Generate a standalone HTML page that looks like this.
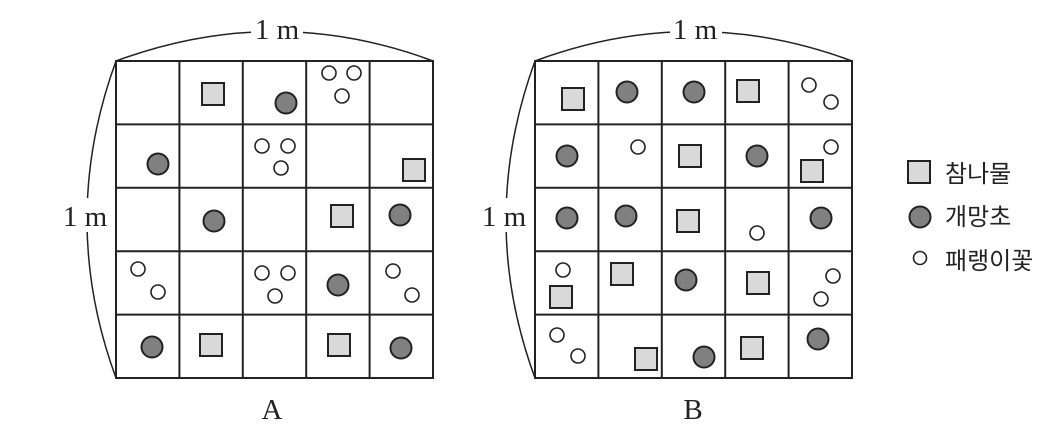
<!DOCTYPE html>
<html><head><meta charset="utf-8"><style>
html,body{margin:0;padding:0;background:#fff;width:1060px;height:436px;overflow:hidden}
</style></head><body>
<svg width="1060" height="436" viewBox="0 0 1060 436" xmlns="http://www.w3.org/2000/svg">
<defs>
<g id="grid" fill="none" stroke="#222" stroke-width="2">
<rect x="0" y="0" width="317" height="317"/>
<line x1="63.4" y1="0" x2="63.4" y2="317"/><line x1="126.8" y1="0" x2="126.8" y2="317"/>
<line x1="190.2" y1="0" x2="190.2" y2="317"/><line x1="253.6" y1="0" x2="253.6" y2="317"/>
<line y1="63.4" x1="0" y2="63.4" x2="317"/><line y1="126.8" x1="0" y2="126.8" x2="317"/>
<line y1="190.2" x1="0" y2="190.2" x2="317"/><line y1="253.6" x1="0" y2="253.6" x2="317"/>
</g>
</defs>
<g fill="none" stroke="#222" stroke-width="1.5">
<path d="M116 61 Q275 2 433 61"/>
<path d="M116 378 Q58 220 116 61"/>
<path d="M535 61 Q694 2 852 61"/>
<path d="M535 378 Q477 220 535 61"/>
</g>
<g fill="#fff">
<rect x="251" y="14" width="52" height="28"/>
<rect x="670" y="14" width="52" height="28"/>
<rect x="55" y="198" width="60" height="34"/>
<rect x="474" y="198" width="60" height="34"/>
</g>
<g font-family="'Liberation Serif',serif" font-size="29" fill="#222" text-anchor="middle">
<text x="277" y="39">1 m</text>
<text x="695" y="39">1 m</text>
<text x="85" y="226">1 m</text>
<text x="504" y="226">1 m</text>
<text x="272" y="419">A</text>
<text x="693" y="419">B</text>
</g>
<use href="#grid" x="116" y="61"/>
<use href="#grid" x="535" y="61"/>
<g stroke="#222" stroke-width="2">
<g fill="#d9d9d9">
<rect x="202" y="83" width="22" height="22"/>
<rect x="403" y="159" width="22" height="22"/>
<rect x="331" y="205" width="22" height="22"/>
<rect x="200" y="334" width="22" height="22"/>
<rect x="328" y="334" width="22" height="22"/>
<rect x="562" y="88" width="22" height="22"/>
<rect x="737" y="80" width="22" height="22"/>
<rect x="679" y="145" width="22" height="22"/>
<rect x="801" y="160" width="22" height="22"/>
<rect x="677" y="210" width="22" height="22"/>
<rect x="550" y="286" width="22" height="22"/>
<rect x="611" y="263" width="22" height="22"/>
<rect x="747" y="272" width="22" height="22"/>
<rect x="635" y="348" width="22" height="22"/>
<rect x="741" y="337" width="22" height="22"/>
<rect x="908" y="161" width="22" height="22"/>
</g>
<g fill="#808080">
<circle cx="286" cy="103" r="10.5"/><circle cx="158" cy="164" r="10.5"/>
<circle cx="214" cy="221" r="10.5"/><circle cx="400" cy="215" r="10.5"/>
<circle cx="338" cy="285" r="10.5"/><circle cx="152" cy="347" r="10.5"/>
<circle cx="401" cy="348" r="10.5"/>
<circle cx="627" cy="92" r="10.5"/><circle cx="694" cy="92" r="10.5"/>
<circle cx="567" cy="156" r="10.5"/><circle cx="757" cy="156" r="10.5"/>
<circle cx="567" cy="218" r="10.5"/><circle cx="626" cy="216" r="10.5"/>
<circle cx="821" cy="218" r="10.5"/><circle cx="686" cy="280" r="10.5"/>
<circle cx="704" cy="357" r="10.5"/><circle cx="818" cy="339" r="10.5"/>
<circle cx="920" cy="217" r="10.5"/>
</g>
<g fill="#fff" stroke-width="1.6">
<circle cx="329" cy="73" r="7"/><circle cx="354" cy="73" r="7"/><circle cx="342" cy="96" r="7"/>
<circle cx="262" cy="146" r="7"/><circle cx="288" cy="146" r="7"/><circle cx="281" cy="168" r="7"/>
<circle cx="138" cy="269" r="7"/><circle cx="158" cy="292" r="7"/>
<circle cx="262" cy="273" r="7"/><circle cx="288" cy="273" r="7"/><circle cx="275" cy="296" r="7"/>
<circle cx="393" cy="271" r="7"/><circle cx="412" cy="295" r="7"/>
<circle cx="809" cy="85" r="7"/><circle cx="831" cy="102" r="7"/>
<circle cx="638" cy="147" r="7"/><circle cx="831" cy="147" r="7"/>
<circle cx="757" cy="233" r="7"/>
<circle cx="563" cy="270" r="7"/><circle cx="833" cy="276" r="7"/><circle cx="821" cy="299" r="7"/>
<circle cx="557" cy="335" r="7"/><circle cx="578" cy="356" r="7"/>
<circle cx="920" cy="258" r="6.5"/>
</g>
</g>
<g font-family="'Liberation Sans','Noto Sans CJK KR',sans-serif" font-size="24" fill="#222">
<text x="945" y="182">참나물</text>
<text x="945" y="225">개망초</text>
<text x="945" y="269">패랭이꽃</text>
</g>
</svg>
</body></html>
